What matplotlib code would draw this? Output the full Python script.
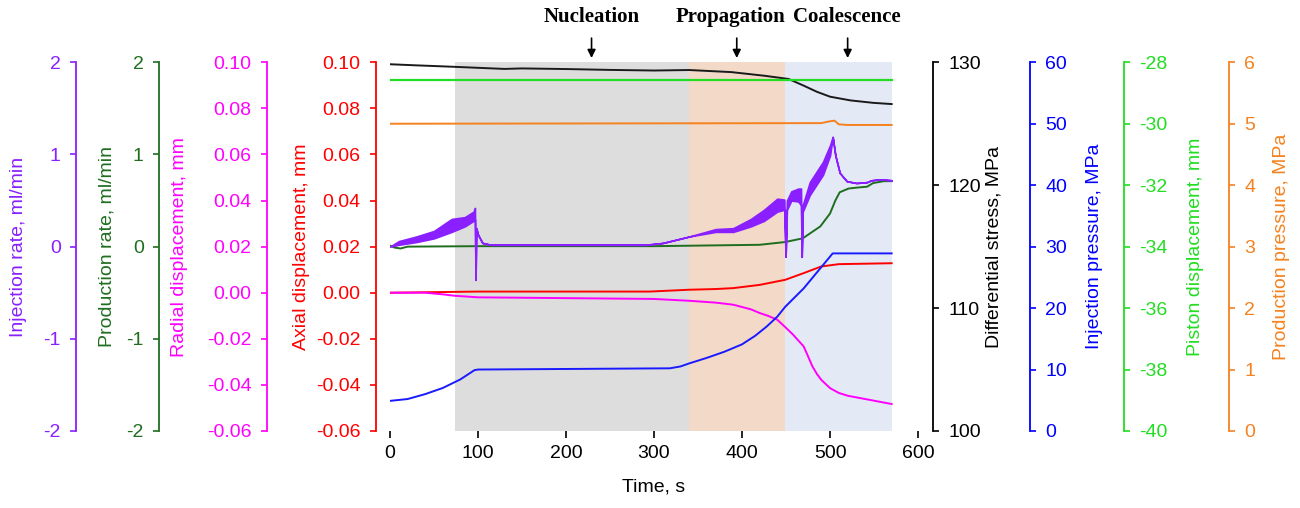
import matplotlib
matplotlib.use("Agg")
import matplotlib.pyplot as plt
import numpy as np
from matplotlib.ticker import FormatStrFormatter

plt.rcParams["font.family"] = ["Liberation Sans", "DejaVu Sans"]
plt.rcParams["axes.unicode_minus"] = False

# DATA
# shaded stages, s
stage_edges = [73.5, 340, 449, 570]
stage_colors = ["#dddddd", "#f3d9c7", "#e4e9f6"]
stage_names = ["Nucleation", "Propagation", "Coalescence"]
stage_text_t = [229, 387, 519]
stage_arrow_t = [229, 394, 520]

# axial displacement, mm
axial_t = [0, 100, 295, 340, 370, 390, 420, 449, 470, 490, 510, 570]
axial_v = [0.0, 0.0005, 0.0005, 0.0013, 0.0016, 0.002, 0.0034, 0.0056, 0.0085, 0.0114, 0.0124, 0.0128]

# radial displacement, mm
radial_t = [0, 40, 60, 73, 100, 300, 340, 370, 390, 410, 420, 430, 440, 449, 458, 470, 475, 480,
            485, 490, 500, 510, 520, 545, 570]
radial_v = [0.0, 0.0, -0.0007, -0.0013, -0.002, -0.0027, -0.0035, -0.0043, -0.0052, -0.0072,
            -0.0088, -0.0101, -0.0117, -0.0149, -0.0182, -0.0233, -0.0276, -0.032, -0.0352,
            -0.0378, -0.0414, -0.0435, -0.0447, -0.0465, -0.0483]

# production rate, ml/min
prod_rate_t = [0, 5, 12, 20, 100, 300, 420, 449, 469, 489, 500, 506, 511, 521, 530, 542, 549, 561, 570]
prod_rate_v = [0.01, -0.01, -0.02, 0.0, 0.005, 0.005, 0.02, 0.05, 0.09, 0.22, 0.36, 0.5, 0.59,
               0.63, 0.64, 0.65, 0.69, 0.71, 0.71]

# injection rate, ml/min (lower / upper edge of the noisy trace)
inj_rate_t = [0, 10, 30, 50, 70, 85, 95, 96.5, 97.2, 98, 100, 105, 115, 290, 310, 340, 370, 390,
              410, 425, 440, 448, 449.5, 451, 456, 464, 467, 467.8, 469, 477, 492, 500, 503,
              506, 511, 519, 530, 542, 547, 557, 570]
inj_rate_lo = [0.0, 0.02, 0.05, 0.09, 0.16, 0.22, 0.28, 0.30, -0.36, 0.2, 0.13, 0.04, 0.02, 0.02,
               0.04, 0.11, 0.16, 0.16, 0.22, 0.28, 0.38, 0.40, -0.11, 0.40, 0.50, 0.49, 0.45,
               -0.11, 0.38, 0.56, 0.78, 0.99, 1.19, 0.99, 0.80, 0.71, 0.69, 0.70, 0.72, 0.73, 0.72]
inj_rate_hi = [0.0, 0.06, 0.11, 0.17, 0.30, 0.32, 0.38, 0.42, -0.36, 0.2, 0.13, 0.04, 0.02, 0.02,
               0.04, 0.11, 0.19, 0.20, 0.30, 0.40, 0.52, 0.51, -0.11, 0.50, 0.60, 0.63, 0.63,
               -0.11, 0.45, 0.70, 0.92, 1.10, 1.19, 0.99, 0.80, 0.71, 0.69, 0.70, 0.72, 0.73, 0.72]

# differential stress, MPa
stress_t = [0, 30, 70, 130, 150, 200, 250, 300, 340, 388, 426, 453, 470, 485, 500, 523, 549, 570]
stress_v = [129.84, 129.75, 129.64, 129.46, 129.5, 129.45, 129.38, 129.33, 129.37, 129.2, 128.9,
            128.64, 128.1, 127.6, 127.2, 126.9, 126.7, 126.6]

# injection pressure, MPa
inj_p_t = [0, 20, 40, 60, 80, 96, 100, 318, 330, 340, 360, 380, 400, 415, 428, 440, 449, 470, 503, 570]
inj_p_v = [4.9, 5.2, 6.0, 7.0, 8.4, 9.9, 10.0, 10.2, 10.5, 11.0, 11.9, 12.9, 14.1, 15.5, 17.0,
           18.6, 20.2, 23.2, 28.9, 28.9]

# piston displacement, mm
piston_t = [0, 570]
piston_v = [-28.58, -28.58]

# production pressure, MPa
prod_p_t = [0, 490, 500, 505, 510, 520, 570]
prod_p_v = [5.0, 5.01, 5.04, 5.05, 4.99, 4.98, 4.98]

PURPLE = "#8a1fff"
DGREEN = "#1f6e1f"
MAGENTA = "#ff00ff"
RED = "#ff0000"
BLACK = "#000000"
BLUE = "#0000ff"
GREEN = "#22dd22"
ORANGE = "#f5821f"

FS = 14
AX_LEFT_PX, AX_W_PX = 390, 528
PX2PT = 72 / 100


def style_axis(a, side, offset_px, color, lim, ticks, label, label_px, fmt=None):
    for s in a.spines.values():
        s.set_visible(False)
    a.spines[side].set_visible(True)
    a.spines[side].set_position(("outward", offset_px * PX2PT))
    a.spines[side].set_color(color)
    a.spines[side].set_linewidth(1.3)
    if side == "left":
        a.yaxis.tick_left()
        a.yaxis.set_label_position("left")
    else:
        a.yaxis.tick_right()
        a.yaxis.set_label_position("right")
    a.set_ylim(*lim)
    a.set_yticks(ticks)
    if fmt:
        a.yaxis.set_major_formatter(FormatStrFormatter(fmt))
    a.tick_params(axis="y", colors=color, direction="out", length=4, width=1.2,
                  labelsize=FS, pad=7)
    a.set_ylabel(label, color=color, fontsize=FS)
    a.yaxis.set_label_coords((label_px - AX_LEFT_PX) / AX_W_PX, 0.5)
    a.yaxis.label.set_va("center")


fig = plt.figure(figsize=(13, 5.08), dpi=100)
ax = fig.add_axes([0.3, 0.1516, 0.4062, 0.7258])

for i in range(3):
    ax.axvspan(stage_edges[i], stage_edges[i + 1], color=stage_colors[i], lw=0, zorder=0)

ax.set_xlim(0, 600)
ax.set_xticks(range(0, 601, 100))
ax.tick_params(axis="x", direction="out", length=5, width=1.2, labelsize=FS, pad=5)
ax.spines["bottom"].set_linewidth(1.3)
ax.set_xlabel("Time, s", fontsize=FS)
ax.xaxis.set_label_coords(0.5, -0.151)
ax.xaxis.label.set_va("center")

style_axis(ax, "left", 14, RED, (-0.06, 0.10), np.arange(-0.06, 0.101, 0.02),
           "Axial displacement, mm", 301.7, "%.2f")
ax.plot(axial_t, axial_v, color=RED, lw=1.4, zorder=3)
ax.plot(radial_t, radial_v, color=MAGENTA, lw=1.4, zorder=3)

# left twins
ax_rad = ax.twinx()
style_axis(ax_rad, "left", 123, MAGENTA, (-0.06, 0.10), np.arange(-0.06, 0.101, 0.02),
           "Radial displacement, mm", 180, "%.2f")

ax_prod = ax.twinx()
style_axis(ax_prod, "left", 231, DGREEN, (-2, 2), [-2, -1, 0, 1, 2],
           "Production rate, ml/min", 106.7, "%d")

ax_inj = ax.twinx()
style_axis(ax_inj, "left", 314, PURPLE, (-2, 2), [-2, -1, 0, 1, 2],
           "Injection rate, ml/min", 18.3, "%d")

# right twins
ax_str = ax.twinx()
style_axis(ax_str, "right", 15, BLACK, (100, 130), [100, 110, 120, 130],
           "Differential stress, MPa", 994, "%d")

ax_ip = ax.twinx()
style_axis(ax_ip, "right", 112, BLUE, (0, 60), range(0, 61, 10),
           "Injection pressure, MPa", 1094, "%d")

ax_pis = ax.twinx()
style_axis(ax_pis, "right", 206, GREEN, (-40, -28), range(-40, -27, 2),
           "Piston displacement, mm", 1195, "%d")

ax_pp = ax.twinx()
style_axis(ax_pp, "right", 311, ORANGE, (0, 6), range(0, 7),
           "Production pressure, MPa", 1281, "%d")

ax_pis.plot(piston_t, piston_v, color=GREEN, lw=1.6)
ax_pp.plot(prod_p_t, prod_p_v, color=ORANGE, lw=1.4)
ax_str.plot(stress_t, stress_v, color="#1a1a1a", lw=1.4)
ax_ip.plot(inj_p_t, inj_p_v, color="#1a1aff", lw=1.4)
ax_prod.plot(prod_rate_t, prod_rate_v, color=DGREEN, lw=1.4)
ax_inj.fill_between(inj_rate_t, inj_rate_lo, inj_rate_hi, color=PURPLE, lw=1.2,
                    edgecolor=PURPLE)

# stage annotations
tr = ax.get_xaxis_transform()
for name, tt, ta in zip(stage_names, stage_text_t, stage_arrow_t):
    ax.text(tt, 1.122, name, transform=tr, ha="center", va="center", fontsize=15,
            fontweight="bold", family="Liberation Serif", clip_on=False)
    ax.annotate("", xy=(ta, 1.004), xytext=(ta, 1.073), xycoords=tr, textcoords=tr,
                annotation_clip=False,
                arrowprops=dict(arrowstyle="-|>", color="black", lw=1.2, mutation_scale=12))

fig.savefig("out.png", dpi=100)
